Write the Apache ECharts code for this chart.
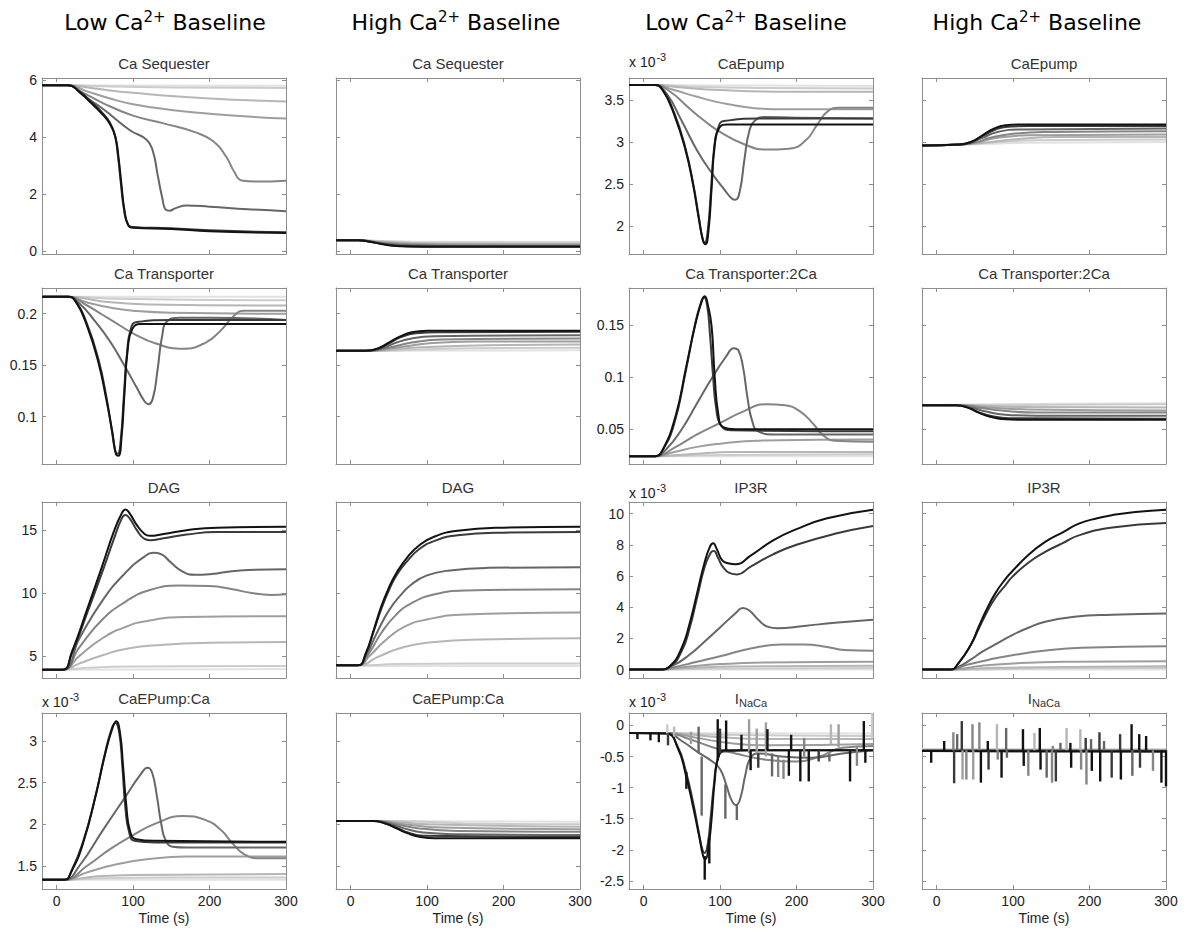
<!DOCTYPE html>
<html><head><meta charset="utf-8">
<script src="https://cdn.jsdelivr.net/npm/echarts@6/dist/echarts.min.js"></script>
<style>html,body{margin:0;padding:0;background:#fff}#c{width:1186px;height:934px}</style>
</head><body><div id="c"></div>
<script>
// ---------------- DATA ----------------
const X_TICKS = [0, 100, 200, 300];
const headers = ['Low', 'High', 'Low', 'High'];
const panelTitles = ['Ca Sequester','Ca Sequester','CaEpump','CaEpump',
  'Ca Transporter','Ca Transporter','Ca Transporter:2Ca','Ca Transporter:2Ca',
  'DAG','DAG','IP3R','IP3R','CaEPump:Ca','CaEPump:Ca','I_NaCa','I_NaCa'];
// y tick values per row: [cols 1-2, cols 3-4]
const yTicksRow1 = [[0,2,4,6],[2,2.5,3,3.5]];
const yTicksRow2 = [[0.1,0.15,0.2],[0.05,0.1,0.15]];
const yTicksRow3 = [[5,10,15],[0,2,4,6,8,10]];
const yTicksRow4 = [[1.5,2,2.5,3],[-2.5,-2,-1.5,-1,-0.5,0]];
// y ranges per row: [cols 1-2, cols 3-4]
const yRangeRow1 = [[-0.1,6.07],[1.664,3.764]];
const yRangeRow2 = [[0.054,0.225],[0.0165,0.186]];
const yRangeRow3 = [[3.24,17.24],[-0.54,10.74]];
const yRangeRow4 = [[1.22,3.34],[-2.63,0.2]];
// panels with "x 10^-3" exponent label [row, col]
const expPanels = [[0,2],[2,2],[3,0],[3,2]];

// Each panel: 8 traces, lightest (weakest stimulus) to darkest; points [time s, value]
const caSeqLow = [
  [[-19,5.82],[100,5.81],[300,5.8]],
  [[-19,5.82],[15,5.82],[60,5.78],[150,5.74],[300,5.72]],
  [[-19,5.82],[15,5.82],[50,5.7],[100,5.55],[200,5.35],[300,5.25]],
  [[-19,5.82],[15,5.82],[40,5.6],[70,5.35],[100,5.15],[150,4.95],[200,4.82],[250,4.72],[300,4.65]],
  [[-19,5.82],[15,5.82],[35,5.55],[60,5.2],[100,4.75],[140,4.48],[180,4.18],[205,3.85],[222,3.3],[232,2.8],[242,2.48],[260,2.44],[300,2.47]],
  [[-19,5.82],[15,5.82],[35,5.45],[60,5.0],[96,4.24],[118,3.9],[126,3.5],[132,2.7],[138,1.9],[143,1.45],[148,1.42],[155,1.5],[170,1.6],[200,1.56],[250,1.47],[300,1.4]],
  [[-19,5.82],[15,5.82],[30,5.6],[45,5.25],[60,4.85],[70,4.5],[76,4.1],[80,3.4],[84,2.4],[88,1.5],[93,0.95],[100,0.85],[150,0.8],[200,0.73],[300,0.66]],
  [[-19,5.82],[15,5.82],[30,5.58],[45,5.2],[60,4.8],[70,4.45],[77,4.0],[81,3.3],[85,2.3],[89,1.4],[94,0.9],[100,0.82],[150,0.78],[200,0.7],[300,0.64]]
];
const caSeqHigh = [
  [[-19,0.38],[10,0.38],[40,0.36],[80,0.34],[150,0.33],[300,0.33]],
  [[-19,0.38],[10,0.38],[40,0.35],[80,0.31],[150,0.3],[300,0.3]],
  [[-19,0.38],[10,0.38],[40,0.33],[80,0.28],[150,0.26],[300,0.26]],
  [[-19,0.38],[10,0.38],[40,0.31],[80,0.25],[150,0.23],[300,0.22]],
  [[-19,0.38],[10,0.38],[40,0.29],[80,0.22],[150,0.2],[300,0.2]],
  [[-19,0.38],[10,0.38],[40,0.27],[80,0.2],[150,0.18],[300,0.18]],
  [[-19,0.38],[10,0.38],[25,0.34],[40,0.26],[60,0.19],[90,0.165],[300,0.16]],
  [[-19,0.38],[10,0.38],[25,0.33],[40,0.25],[55,0.19],[75,0.16],[120,0.15],[300,0.15]]
];
const caEpumpLow = [
  [[-19,3.68],[15,3.68],[100,3.675],[300,3.67]],
  [[-19,3.68],[15,3.68],[60,3.66],[150,3.645],[300,3.64]],
  [[-19,3.68],[15,3.68],[50,3.65],[100,3.62],[200,3.6],[300,3.6]],
  [[-19,3.68],[15,3.68],[40,3.62],[70,3.54],[100,3.47],[140,3.41],[180,3.39],[300,3.39]],
  [[-19,3.68],[15,3.68],[35,3.6],[60,3.4],[80,3.25],[100,3.12],[130,2.98],[160,2.91],[190,2.92],[212,3.02],[228,3.22],[240,3.36],[255,3.41],[300,3.41]],
  [[-19,3.68],[15,3.68],[30,3.58],[50,3.25],[70,2.9],[90,2.62],[105,2.44],[115,2.33],[120,2.31],[126,2.42],[132,2.8],[138,3.12],[145,3.25],[160,3.3],[200,3.29],[300,3.28]],
  [[-19,3.68],[15,3.68],[25,3.62],[40,3.35],[55,2.92],[65,2.5],[72,2.12],[77,1.85],[80,1.8],[84,1.95],[88,2.4],[92,2.9],[97,3.15],[105,3.25],[150,3.28],[300,3.28]],
  [[-19,3.68],[15,3.68],[25,3.62],[40,3.33],[55,2.9],[65,2.48],[72,2.1],[78,1.82],[81,1.78],[85,1.95],[89,2.45],[93,2.95],[99,3.17],[110,3.21],[300,3.21]]
];
const caEpumpHigh = [
  [[-19,2.96],[40,2.97],[120,2.99],[300,3.0]],
  [[-19,2.96],[30,2.97],[70,2.99],[130,3.02],[300,3.03]],
  [[-19,2.96],[30,2.97],[60,2.99],[100,3.03],[160,3.06],[300,3.06]],
  [[-19,2.96],[30,2.97],[50,2.99],[80,3.05],[120,3.08],[300,3.09]],
  [[-19,2.96],[30,2.97],[50,2.99],[70,3.05],[100,3.1],[150,3.12],[300,3.13]],
  [[-19,2.96],[30,2.97],[45,2.99],[60,3.05],[80,3.12],[110,3.15],[300,3.16]],
  [[-19,2.96],[30,2.97],[45,3.0],[60,3.07],[75,3.14],[90,3.18],[120,3.19],[300,3.19]],
  [[-19,2.96],[30,2.97],[45,3.0],[60,3.08],[75,3.16],[90,3.2],[110,3.21],[300,3.21]]
];
const caTransLow = [
  [[-19,0.2165],[300,0.2165]],
  [[-19,0.2165],[15,0.2165],[80,0.2145],[300,0.213]],
  [[-19,0.2165],[15,0.2165],[60,0.212],[120,0.209],[300,0.208]],
  [[-19,0.2165],[15,0.2165],[40,0.211],[70,0.206],[100,0.203],[150,0.201],[300,0.2]],
  [[-19,0.2165],[15,0.2165],[40,0.208],[60,0.199],[80,0.19],[100,0.181],[130,0.171],[165,0.166],[195,0.172],[215,0.184],[232,0.198],[245,0.203],[300,0.203]],
  [[-19,0.2165],[15,0.2165],[30,0.21],[50,0.193],[70,0.173],[90,0.148],[105,0.128],[115,0.115],[120,0.112],[126,0.118],[132,0.145],[138,0.178],[145,0.193],[160,0.196],[200,0.196],[300,0.194]],
  [[-19,0.2165],[15,0.2165],[25,0.212],[40,0.19],[55,0.155],[65,0.12],[72,0.088],[77,0.066],[80,0.064],[84,0.078],[88,0.12],[92,0.16],[97,0.185],[105,0.192],[150,0.194],[300,0.194]],
  [[-19,0.2165],[15,0.2165],[25,0.212],[40,0.188],[55,0.152],[65,0.117],[73,0.085],[78,0.063],[81,0.062],[85,0.08],[89,0.125],[93,0.165],[99,0.185],[110,0.19],[300,0.19]]
];
const caTransHigh = [
  [[-19,0.164],[300,0.1645]],
  [[-19,0.164],[40,0.164],[120,0.166],[300,0.167]],
  [[-19,0.164],[30,0.164],[80,0.167],[150,0.169],[300,0.17]],
  [[-19,0.164],[25,0.164],[60,0.167],[100,0.171],[160,0.173],[300,0.173]],
  [[-19,0.164],[25,0.164],[50,0.167],[80,0.172],[120,0.175],[300,0.176]],
  [[-19,0.164],[20,0.164],[40,0.166],[60,0.172],[80,0.176],[110,0.178],[300,0.179]],
  [[-19,0.164],[20,0.164],[35,0.166],[50,0.171],[65,0.177],[85,0.181],[120,0.182],[300,0.1825]],
  [[-19,0.164],[20,0.164],[35,0.166],[50,0.172],[65,0.178],[80,0.182],[100,0.1835],[300,0.1835]]
];
const caT2Low = [
  [[-19,0.024],[300,0.024]],
  [[-19,0.024],[15,0.024],[80,0.025],[300,0.026]],
  [[-19,0.024],[15,0.024],[60,0.026],[120,0.028],[300,0.028]],
  [[-19,0.024],[15,0.024],[40,0.028],[70,0.033],[100,0.036],[150,0.039],[300,0.04]],
  [[-19,0.024],[15,0.024],[40,0.032],[70,0.045],[100,0.056],[130,0.067],[160,0.074],[185,0.073],[205,0.067],[222,0.055],[235,0.044],[250,0.039],[300,0.038]],
  [[-19,0.024],[15,0.024],[30,0.031],[50,0.05],[70,0.075],[90,0.1],[108,0.12],[118,0.128],[124,0.126],[130,0.11],[136,0.08],[142,0.058],[150,0.048],[170,0.045],[300,0.045]],
  [[-19,0.024],[15,0.024],[25,0.03],[40,0.055],[55,0.105],[67,0.15],[75,0.172],[79,0.177],[83,0.17],[87,0.14],[91,0.1],[95,0.07],[101,0.054],[115,0.049],[300,0.048]],
  [[-19,0.024],[15,0.024],[25,0.03],[42,0.063],[56,0.111],[69,0.155],[77,0.175],[80,0.178],[84,0.17],[89,0.149],[93,0.101],[98,0.063],[104,0.052],[120,0.05],[300,0.05]]
];
const caT2High = [
  [[-19,0.073],[60,0.074],[300,0.075]],
  [[-19,0.073],[60,0.073],[150,0.0735],[300,0.074]],
  [[-19,0.073],[40,0.073],[100,0.0715],[300,0.071]],
  [[-19,0.073],[30,0.073],[70,0.071],[120,0.069],[300,0.068]],
  [[-19,0.073],[30,0.073],[55,0.071],[85,0.068],[130,0.066],[300,0.066]],
  [[-19,0.073],[25,0.073],[45,0.071],[65,0.067],[90,0.064],[130,0.063],[300,0.063]],
  [[-19,0.073],[25,0.073],[40,0.071],[55,0.0665],[70,0.063],[95,0.0605],[300,0.06]],
  [[-19,0.073],[25,0.073],[40,0.071],[55,0.066],[70,0.062],[90,0.0595],[120,0.059],[300,0.059]]
];
const dagLow = [
  [[-19,3.9],[300,3.95]],
  [[-19,3.9],[8,3.9],[40,4.05],[100,4.15],[300,4.2]],
  [[-19,3.9],[8,3.9],[30,4.4],[60,5.05],[90,5.55],[130,5.85],[200,6.05],[300,6.1]],
  [[-19,3.9],[8,3.9],[30,5.0],[60,6.4],[90,7.3],[120,7.8],[170,8.1],[300,8.15]],
  [[-19,3.9],[8,3.9],[30,5.7],[60,7.9],[90,9.3],[120,10.2],[160,10.6],[200,10.55],[230,10.3],[255,10.0],[280,9.85],[300,9.9]],
  [[-19,3.9],[8,3.9],[30,6.4],[60,9.4],[90,11.6],[115,12.9],[128,13.2],[138,13.05],[150,12.4],[165,11.7],[180,11.45],[200,11.5],[240,11.8],[300,11.9]],
  [[-19,3.9],[8,3.9],[20,5.2],[40,8.4],[60,11.7],[75,14.3],[85,15.9],[90,16.2],[96,15.9],[105,15.0],[115,14.3],[122,14.2],[140,14.35],[170,14.65],[210,14.85],[300,14.85]],
  [[-19,3.9],[8,3.9],[20,5.3],[40,8.7],[60,12.2],[75,14.9],[85,16.3],[90,16.65],[96,16.3],[105,15.4],[115,14.7],[122,14.55],[140,14.7],[170,15.0],[210,15.2],[300,15.27]]
];
const dagHigh = [
  [[-19,4.2],[300,4.2]],
  [[-19,4.25],[15,4.25],[60,4.35],[150,4.4],[300,4.4]],
  [[-19,4.25],[12,4.25],[35,4.9],[70,5.7],[110,6.1],[170,6.3],[300,6.4]],
  [[-19,4.25],[10,4.25],[25,5.0],[45,6.2],[70,7.3],[100,7.9],[150,8.3],[300,8.45]],
  [[-19,4.25],[10,4.25],[25,5.3],[40,6.8],[60,8.3],[80,9.2],[110,9.9],[150,10.2],[300,10.3]],
  [[-19,4.25],[10,4.25],[20,5.0],[35,6.9],[50,8.6],[65,9.8],[80,10.7],[100,11.4],[130,11.8],[180,12.0],[300,12.05]],
  [[-19,4.25],[10,4.25],[20,5.2],[30,6.9],[40,8.7],[50,10.2],[60,11.4],[75,12.6],[90,13.5],[110,14.15],[140,14.6],[200,14.8],[300,14.85]],
  [[-19,4.25],[10,4.25],[20,5.2],[30,7.0],[40,8.9],[50,10.4],[60,11.6],[75,12.9],[90,13.8],[110,14.5],[140,14.95],[200,15.2],[300,15.28]]
];
const ip3Low = [
  [[-19,0],[300,0]],
  [[-19,0],[20,0],[80,0.05],[300,0.1]],
  [[-19,0],[20,0],[60,0.1],[120,0.2],[300,0.25]],
  [[-19,0],[20,0],[60,0.2],[100,0.35],[160,0.45],[300,0.5]],
  [[-19,0],[20,0],[40,0.15],[70,0.5],[100,0.85],[140,1.35],[180,1.6],[210,1.6],[240,1.45],[262,1.25],[300,1.2]],
  [[-19,0],[20,0],[40,0.3],[60,0.95],[80,1.8],[100,2.7],[120,3.6],[130,3.95],[138,3.8],[150,3.2],[162,2.75],[175,2.65],[210,2.8],[250,3.0],[300,3.2]],
  [[-19,0],[20,0],[35,0.2],[50,1.2],[60,2.6],[70,4.6],[80,6.6],[88,7.5],[92,7.6],[97,7.2],[105,6.5],[115,6.15],[122,6.1],[140,6.6],[170,7.4],[200,8.0],[250,8.7],[300,9.2]],
  [[-19,0],[20,0],[35,0.25],[50,1.4],[60,2.9],[70,4.9],[80,6.9],[87,7.9],[91,8.1],[96,7.7],[103,7.0],[112,6.8],[120,6.75],[140,7.3],[170,8.3],[200,9.0],[240,9.7],[300,10.25]]
];
const ip3High = [
  [[-19,0],[300,0]],
  [[-19,0],[30,0],[150,0.08],[300,0.1]],
  [[-19,0],[20,0],[80,0.12],[300,0.22]],
  [[-19,0],[20,0],[60,0.25],[110,0.42],[180,0.5],[300,0.53]],
  [[-19,0],[18,0],[40,0.3],[70,0.65],[99,0.92],[140,1.2],[190,1.4],[300,1.5]],
  [[-19,0],[18,0],[30,0.2],[45,0.65],[60,1.15],[80,1.7],[99,2.21],[120,2.68],[142,3.06],[180,3.38],[230,3.52],[300,3.6]],
  [[-19,0],[18,0],[30,0.5],[45,1.6],[55,2.6],[65,3.6],[77,4.6],[90,5.4],[99,5.94],[120,6.85],[142,7.54],[165,8.1],[186,8.6],[230,9.1],[300,9.4]],
  [[-19,0],[18,0],[30,0.5],[45,1.6],[55,2.73],[65,3.8],[77,4.9],[90,5.8],[99,6.3],[120,7.35],[142,8.18],[165,8.8],[186,9.35],[210,9.7],[230,9.9],[260,10.1],[300,10.25]]
];
const caEpCaLow = [
  [[-19,1.33],[300,1.33]],
  [[-19,1.33],[10,1.33],[60,1.35],[150,1.36],[300,1.36]],
  [[-19,1.33],[10,1.33],[50,1.37],[100,1.39],[300,1.4]],
  [[-19,1.33],[10,1.33],[40,1.42],[80,1.52],[120,1.58],[170,1.61],[300,1.61]],
  [[-19,1.33],[10,1.33],[40,1.5],[70,1.7],[100,1.87],[130,2.01],[165,2.1],[195,2.05],[215,1.93],[230,1.77],[245,1.64],[265,1.59],[300,1.59]],
  [[-19,1.33],[10,1.33],[30,1.5],[60,1.92],[90,2.33],[110,2.6],[119,2.68],[125,2.62],[131,2.35],[137,2.0],[143,1.8],[152,1.73],[170,1.72],[300,1.72]],
  [[-19,1.33],[10,1.33],[20,1.45],[35,1.8],[50,2.3],[62,2.8],[72,3.15],[77,3.22],[82,3.1],[86,2.7],[90,2.2],[95,1.9],[102,1.8],[130,1.78],[300,1.78]],
  [[-19,1.33],[10,1.33],[20,1.44],[35,1.78],[52,2.38],[65,2.9],[74,3.18],[78,3.24],[83,3.1],[87,2.7],[91,2.25],[96,1.92],[104,1.82],[130,1.8],[300,1.79]]
];
const caEpCaHigh = [
  [[-19,2.04],[300,2.03]],
  [[-19,2.04],[50,2.04],[150,2.01],[300,2.0]],
  [[-19,2.04],[40,2.04],[100,2.0],[300,1.97]],
  [[-19,2.04],[35,2.04],[70,2.0],[120,1.96],[300,1.94]],
  [[-19,2.04],[35,2.04],[60,2.0],[90,1.95],[140,1.92],[300,1.91]],
  [[-19,2.04],[30,2.04],[50,2.01],[70,1.95],[95,1.9],[140,1.88],[300,1.87]],
  [[-19,2.04],[30,2.04],[45,2.01],[60,1.96],[75,1.9],[95,1.86],[300,1.845]],
  [[-19,2.04],[30,2.04],[45,2.01],[60,1.95],[75,1.89],[90,1.85],[110,1.83],[300,1.83]]
];
const inacaLow = [
  [[-19,-0.12],[300,-0.13]],
  [[-19,-0.12],[30,-0.12],[100,-0.15],[300,-0.17]],
  [[-19,-0.12],[30,-0.12],[90,-0.18],[160,-0.22],[300,-0.22]],
  [[-19,-0.12],[30,-0.12],[70,-0.2],[110,-0.28],[160,-0.32],[300,-0.3]],
  [[-19,-0.12],[30,-0.12],[60,-0.22],[90,-0.35],[120,-0.45],[160,-0.55],[200,-0.58],[230,-0.5],[260,-0.36],[300,-0.33]],
  [[-19,-0.12],[30,-0.12],[50,-0.25],[70,-0.42],[90,-0.58],[100,-0.7],[108,-0.95],[115,-1.2],[121,-1.28],[127,-1.15],[133,-0.8],[140,-0.52],[150,-0.45],[180,-0.5],[220,-0.52],[260,-0.45],[300,-0.4]],
  [[-19,-0.12],[30,-0.13],[45,-0.35],[55,-0.72],[65,-1.25],[72,-1.7],[77,-2.0],[80,-2.05],[84,-1.9],[88,-1.45],[92,-0.95],[97,-0.55],[105,-0.42],[150,-0.4],[300,-0.4]],
  [[-19,-0.12],[30,-0.13],[45,-0.37],[55,-0.78],[65,-1.32],[73,-1.8],[78,-2.1],[81,-2.15],[85,-1.95],[89,-1.5],[93,-0.9],[98,-0.5],[106,-0.4],[150,-0.4],[300,-0.4]]
];
const inacaHigh = [
  [[-19,-0.38],[300,-0.38]],
  [[-19,-0.39],[300,-0.39]],
  [[-19,-0.39],[300,-0.4]],
  [[-19,-0.4],[300,-0.4]],
  [[-19,-0.4],[300,-0.41]],
  [[-19,-0.4],[300,-0.41]],
  [[-19,-0.41],[300,-0.42]],
  [[-19,-0.41],[300,-0.42]]
];
// noise spikes: [time, base value, spike value, trace level]
const inacaLowSpikes = [
  [-8,-0.12,-0.22,7],[9,-0.12,-0.24,7],[20,-0.12,-0.27,7],[31,-0.13,0.02,1],[32,-0.13,-0.32,6],
  [40,-0.18,-0.02,2],[56,-0.75,-1.02,7],[62,-0.3,-0.1,3],[72,-0.45,-0.02,5],[76,-0.5,-1.45,5],
  [80,-2.1,-2.48,7],[86,-1.8,-2.22,7],[97,-0.55,0.1,7],[100,-0.45,-0.05,6],[108,-0.4,0.08,7],
  [107,-0.95,-1.5,5],[122,-1.28,-1.52,5],[128,-0.4,-0.15,7],[138,-0.45,0.1,3],[140,-0.4,-0.72,7],
  [148,-0.45,-0.05,3],[150,-0.45,-0.68,6],[160,-0.5,0.05,3],[162,-0.4,-0.06,7],[168,-0.45,-0.82,5],
  [176,-0.5,-0.83,4],[183,-0.55,-0.86,4],[190,-0.4,-0.81,7],[193,-0.4,-0.15,7],[205,-0.4,-0.9,7],
  [210,-0.5,-0.2,4],[216,-0.4,-0.9,7],[229,-0.4,-0.58,6],[243,-0.45,-0.58,5],[245,-0.3,0.02,2],
  [255,-0.35,0.02,3],[270,-0.4,-0.9,7],[279,-0.35,-0.65,4],[288,-0.4,0.07,7],[290,-0.4,-0.6,7],[299,-0.2,0.2,1]
];
const inacaHighSpikes = [
  [-7,-0.4,-0.6,7],[10,-0.4,-0.25,7],[22,-0.4,-0.11,4],[23,-0.4,-0.93,6],[27,-0.4,-0.14,5],
  [33,-0.4,0.07,6],[34,-0.4,-0.87,3],[39,-0.4,-0.87,4],[47,-0.4,0.02,4],[48,-0.4,-0.87,3],
  [56,-0.4,0.05,4],[58,-0.4,-0.92,7],[67,-0.4,-0.25,7],[68,-0.4,-0.71,6],[79,-0.4,0.02,2],
  [80,-0.4,-0.55,4],[85,-0.4,-0.84,7],[91,-0.4,-0.04,5],[92,-0.4,-0.52,5],[113,-0.4,-0.06,7],
  [114,-0.4,-0.65,7],[120,-0.4,-0.81,4],[128,-0.4,-0.12,2],[135,-0.4,-0.04,7],[136,-0.4,-0.71,7],
  [144,-0.4,-0.84,5],[151,-0.4,-0.92,4],[152,-0.4,-0.33,4],[156,-0.4,-0.9,6],[162,-0.4,-0.28,5],
  [170,-0.4,-0.04,2],[175,-0.4,-0.28,7],[176,-0.4,-0.68,7],[188,-0.4,-0.06,2],[189,-0.4,-0.71,4],
  [195,-0.4,-0.2,6],[196,-0.4,-0.95,4],[202,-0.4,-0.22,5],[203,-0.4,-0.73,7],[213,-0.4,-0.11,6],
  [214,-0.4,-0.9,7],[219,-0.4,-0.25,5],[229,-0.4,-0.84,6],[240,-0.4,-0.14,6],[241,-0.4,-0.87,7],
  [255,-0.4,0.02,7],[256,-0.4,-0.81,5],[265,-0.4,-0.14,7],[266,-0.4,-0.68,6],[274,-0.4,-0.17,7],
  [283,-0.4,-0.73,4],[294,-0.4,-0.92,7],[300,-0.4,-0.98,7]
];

// ---------------- LAYOUT / STYLE ----------------
const LEVEL_COLORS = ['#e2e2e2','#cccccc','#b6b6b6','#9e9e9e','#858585','#666666','#3a3a3a','#121212'];
const BOX = '#8e8e8e';
const FONT = 'Liberation Sans';
const GRID_LEFT = [42, 336, 629, 922];
const GRID_TOP = [78, 288, 502, 713];
const GRID_W = 244, GRID_H = 176;
const X_MIN = -19, X_MAX = 300;
const HEADER_X = [165, 456, 746, 1037];

const panelLines = [caSeqLow, caSeqHigh, caEpumpLow, caEpumpHigh,
  caTransLow, caTransHigh, caT2Low, caT2High,
  dagLow, dagHigh, ip3Low, ip3High,
  caEpCaLow, caEpCaHigh, inacaLow, inacaHigh];
const panelSpikes = {14: inacaLowSpikes, 15: inacaHighSpikes};
const rowTicks = [yTicksRow1, yTicksRow2, yTicksRow3, yTicksRow4];
const rowRanges = [yRangeRow1, yRangeRow2, yRangeRow3, yRangeRow4];

const grid = [], xAxis = [], yAxis = [], series = [], graphic = [];
const axisLineStyle = {show: true, onZero: false, lineStyle: {color: BOX, width: 1}};
const tickStyle = (vals) => ({show: true, inside: true, length: 4, customValues: vals, lineStyle: {color: BOX, width: 1}});

for (let r = 0; r < 4; r++) {
  for (let c = 0; c < 4; c++) {
    const i = r * 4 + c;
    const pair = c < 2 ? 0 : 1;
    const yt = rowTicks[r][pair];
    const yr = rowRanges[r][pair];
    grid.push({left: GRID_LEFT[c], top: GRID_TOP[r], width: GRID_W, height: GRID_H, show: false});
    const bottomRow = r === 3;
    xAxis.push({gridIndex: i, type: 'value', min: X_MIN, max: X_MAX, position: 'bottom',
      axisLine: axisLineStyle, axisTick: tickStyle(X_TICKS), splitLine: {show: false},
      axisLabel: {show: bottomRow, customValues: X_TICKS, margin: 5, color: '#222', fontSize: 14, fontFamily: FONT},
      name: bottomRow ? 'Time (s)' : '', nameLocation: 'middle', nameGap: 22,
      nameTextStyle: {color: '#222', fontSize: 14, fontFamily: FONT}});
    xAxis.push({gridIndex: i, type: 'value', min: X_MIN, max: X_MAX, position: 'top',
      axisLine: axisLineStyle, axisTick: tickStyle(X_TICKS), splitLine: {show: false}, axisLabel: {show: false}});
    const showY = (c === 0 || c === 2);
    yAxis.push({gridIndex: i, type: 'value', min: yr[0], max: yr[1], position: 'left',
      axisLine: axisLineStyle, axisTick: tickStyle(yt), splitLine: {show: false},
      axisLabel: {show: showY, customValues: yt, margin: 5, color: '#222', fontSize: 14, fontFamily: FONT}});
    yAxis.push({gridIndex: i, type: 'value', min: yr[0], max: yr[1], position: 'right',
      axisLine: axisLineStyle, axisTick: tickStyle(yt), splitLine: {show: false}, axisLabel: {show: false}});

    panelLines[i].forEach((pts, lv) => {
      series.push({type: 'line', xAxisIndex: 2 * i, yAxisIndex: 2 * i, data: pts,
        symbol: 'none', showSymbol: false, smooth: 0.5, silent: true,
        lineStyle: {width: 2, color: LEVEL_COLORS[lv]}, z: 2 + lv});
    });
    if (panelSpikes[i]) {
      series.push({type: 'custom', xAxisIndex: 2 * i, yAxisIndex: 2 * i, data: panelSpikes[i],
        dimensions: ['t', 'base', 'peak', 'lv'], encode: {x: 0, y: [1, 2]}, silent: true, z: 12,
        renderItem: function (params, api) {
          const p1 = api.coord([api.value(0), api.value(1)]);
          const p2 = api.coord([api.value(0), api.value(2)]);
          return {type: 'line', shape: {x1: p1[0], y1: p1[1], x2: p2[0], y2: p2[1]},
            style: {stroke: LEVEL_COLORS[api.value(3)], lineWidth: 2.4}};
        }});
    }

    // panel title
    const title = panelTitles[i];
    const isINaCa = title === 'I_NaCa';
    graphic.push({type: 'text', x: GRID_LEFT[c] + GRID_W / 2, y: GRID_TOP[r] - 15,
      style: {text: isINaCa ? '{m|I}{s|NaCa}' : title, align: 'center', verticalAlign: 'middle',
        font: '15px "Liberation Sans"', fill: '#333',
        rich: {m: {fontSize: 15, fontFamily: FONT, fill: '#333'},
               s: {fontSize: 11, fontFamily: FONT, fill: '#333', padding: [10, 0, 0, 0]}}}});
  }
}

// column headers
headers.forEach((h, c) => {
  graphic.push({type: 'text', x: HEADER_X[c], y: 22,
    style: {text: '{a|' + h + ' Ca}{s|2+}{a| Baseline}', align: 'center', verticalAlign: 'middle',
      rich: {a: {fontSize: 22, fontWeight: 'normal', fontFamily: 'DejaVu Sans', fill: '#000'},
             s: {fontSize: 15, fontWeight: 'normal', fontFamily: 'DejaVu Sans', fill: '#000', padding: [0, 0, 11, 0]}}}});
});

// exponent labels
const expOffset = [16, 0, 9, 11];
expPanels.forEach(([r, c]) => {
  graphic.push({type: 'text', x: GRID_LEFT[c], y: GRID_TOP[r] - expOffset[r],
    style: {text: '{a|x 10}{s|-3}', align: 'left', verticalAlign: 'middle',
      rich: {a: {fontSize: 14, fontFamily: FONT, fill: '#222'},
             s: {fontSize: 11, fontFamily: FONT, fill: '#222', padding: [0, 0, 10, 1]}}}});
});

const chart = echarts.init(document.getElementById('c'), null, {renderer: 'svg'});
chart.setOption({animation: false, backgroundColor: '#fff', grid, xAxis, yAxis, series, graphic});
</script></body></html>
